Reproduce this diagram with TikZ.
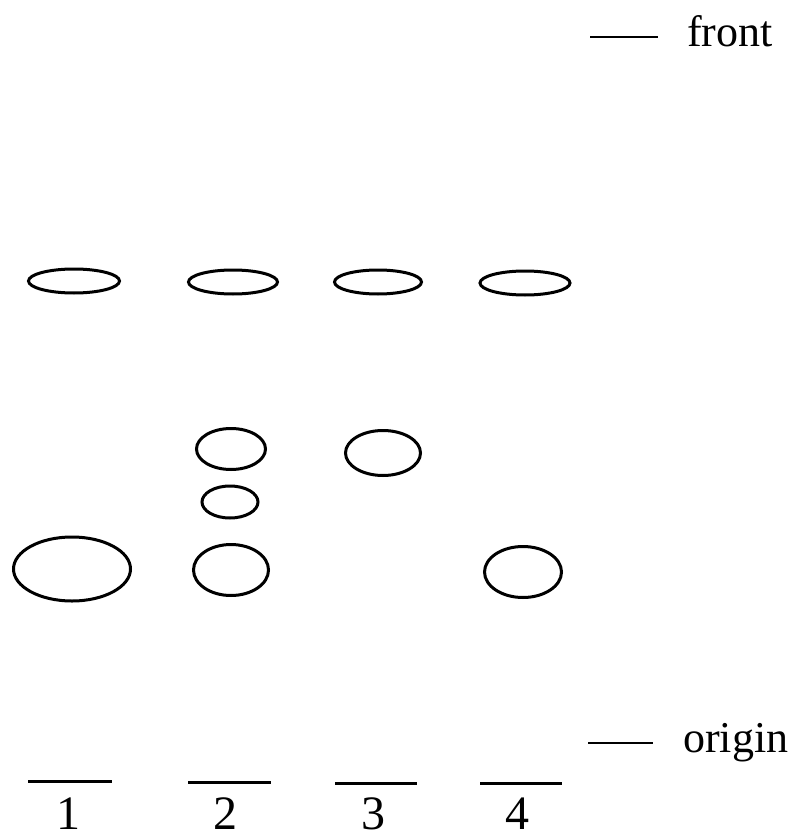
\documentclass[tikz,border=0pt]{standalone}
\usepackage{fontspec}
\setmainfont{Liberation Serif}
\usetikzlibrary{shapes.geometric}
\tikzset{
  spot/.style={draw=black, line width=3pt, ellipse, inner sep=0pt},
  mark line/.style={draw=black, line width=3pt},
  lbl/.style={inner sep=0pt, anchor=base west, font=\fontsize{44}{50}\selectfont},
  lane num/.style={inner sep=0pt, anchor=base, font=\fontsize{48}{54}\selectfont}
}
\begin{document}
\begin{tikzpicture}[x=1pt,y=-1pt]
\useasboundingbox (0,0) rectangle (798,840);
% front marker
\coordinate (f1) at (590,37);
\coordinate (f2) at (658,37);
\draw[mark line, line width=2pt] (f1) -- (f2);
\node[lbl] (front) at (687,47) {front};
% origin marker
\coordinate (o1) at (588,743);
\coordinate (o2) at (653,743);
\draw[mark line, line width=2pt] (o1) -- (o2);
\node[lbl] (origin) at (683,752) {origin};
% top row spots
\node[spot, minimum width=91pt, minimum height=24pt] (s1a) at (74,281) {};
\node[spot, minimum width=89pt, minimum height=24pt] (s2a) at (233,282) {};
\node[spot, minimum width=87pt, minimum height=24pt] (s3a) at (378,282) {};
\node[spot, minimum width=90pt, minimum height=24pt] (s4a) at (525,283) {};
% middle spots
\node[spot, minimum width=69pt, minimum height=41pt] (s2b) at (231,449) {};
\node[spot, minimum width=75pt, minimum height=45pt] (s3b) at (383,453) {};
\node[spot, minimum width=56pt, minimum height=32pt] (s2c) at (230,502) {};
% lower spots
\node[spot, minimum width=117pt, minimum height=64pt] (s1b) at (72,569) {};
\node[spot, minimum width=75pt, minimum height=51pt] (s2d) at (231,570) {};
\node[spot, minimum width=77pt, minimum height=51pt] (s4b) at (523,572) {};
% lane baselines
\coordinate (l1a) at (28,781);  \coordinate (l1b) at (112,781);
\coordinate (l2a) at (188,782); \coordinate (l2b) at (271,782);
\coordinate (l3a) at (335,783); \coordinate (l3b) at (417,783);
\coordinate (l4a) at (480,783); \coordinate (l4b) at (562,783);
\draw[mark line] (l1a) -- (l1b);
\draw[mark line] (l2a) -- (l2b);
\draw[mark line] (l3a) -- (l3b);
\draw[mark line] (l4a) -- (l4b);
% lane numbers
\node[lane num] (n1) at (68,829) {1};
\node[lane num] (n2) at (225,829) {2};
\node[lane num] (n3) at (373,829) {3};
\node[lane num] (n4) at (517,829) {4};
\end{tikzpicture}
\end{document}
